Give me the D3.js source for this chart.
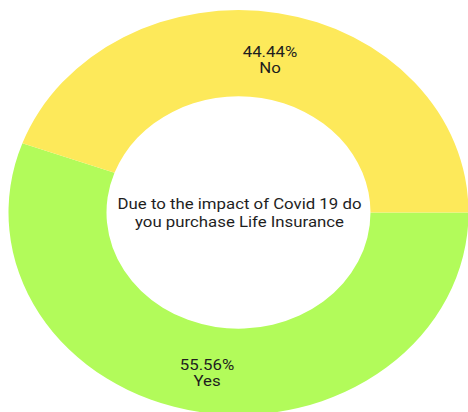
<!DOCTYPE html>
<html>
<head>
<meta charset="utf-8">
<script src="https://cdn.jsdelivr.net/npm/d3@7"></script>
<style>
  html, body { margin: 0; padding: 0; background: #fff; }
  svg { display: block; }
  text { font-family: Roboto, "Noto Sans", sans-serif; fill: #1e1e1e; }
</style>
</head>
<body>
<svg id="chart" width="468" height="412"></svg>
<script>
// Survey answers and their shares
const categories = ["Yes", "No"];
const values = [55.56, 44.44];
const colors = ["#b2fb5a", "#fde95a"];
const title = ["Due to the impact of Covid 19 do", "you purchase Life Insurance"];

const cx = 238.5, cy = 212.5;
const outerR = 230, innerR = 132;
const squash = 0.88;   // the ring is drawn as a flattened ellipse
const widen = 1.2;     // text is set slightly wide

const svg = d3.select("#chart");

const color = d3.scaleOrdinal().domain(categories).range(colors);

// Yes starts at 3 o'clock and runs clockwise
const pie = d3.pie()
  .sort(null)
  .startAngle(Math.PI / 2)
  .endAngle(Math.PI / 2 + 2 * Math.PI)
  .value(d => d.value);

const data = categories.map((c, i) => ({ cat: c, value: values[i] }));
const arcs = pie(data);

const arc = d3.arc().innerRadius(innerR).outerRadius(outerR);
const midR = (innerR + outerR) / 2;
const labelArc = d3.arc().innerRadius(midR).outerRadius(midR);

const ring = svg.append("g")
  .attr("transform", `translate(${cx},${cy}) scale(1,${squash})`);

ring.selectAll("path")
  .data(arcs)
  .join("path")
  .attr("d", arc)
  .attr("fill", d => color(d.data.cat));

// Percent and category labels at each slice's centroid
const labels = svg.append("g");
arcs.forEach(a => {
  const [x, y] = labelArc.centroid(a);
  const lx = cx + x, ly = cy + y * squash;
  const t = labels.append("text")
    .attr("transform", `translate(${lx},${ly}) scale(${widen},1)`)
    .attr("text-anchor", "middle")
    .attr("font-size", 14);
  t.append("tspan").attr("x", 0).attr("y", 1).text(a.data.value.toFixed(2) + "%");
  t.append("tspan").attr("x", 0).attr("y", 17).text(a.data.cat);
});

// Question in the hole
const center = svg.append("text")
  .attr("transform", `translate(${cx + 1},0) scale(${widen},1)`)
  .attr("text-anchor", "middle")
  .attr("font-size", 14);
title.forEach((line, i) => {
  center.append("tspan")
    .attr("x", 0)
    .attr("y", 209.5 + i * 18)
    .text(line);
});
</script>
</body>
</html>
